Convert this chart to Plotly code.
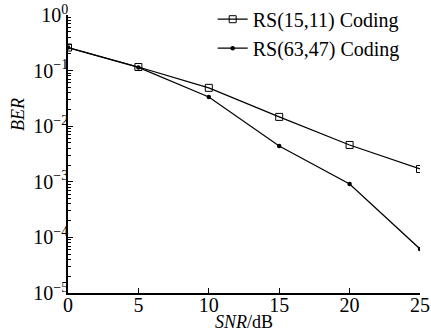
import plotly.graph_objects as go

snr = [0, 5, 10, 15, 20, 25]
ber_rs15 = [0.26, 0.116, 0.049, 0.0147, 0.0046, 0.0017]
ber_rs63 = [0.26, 0.114, 0.0335, 0.0044, 0.00091, 0.000062]
series_names = ["RS(15,11) Coding", "RS(63,47) Coding"]
ytick_vals = [1e-5, 1e-4, 1e-3, 1e-2, 1e-1, 1]
ytick_text = ["10<sup>−5</sup>", "10<sup>−4</sup>", "10<sup>−3</sup>", "10<sup>−2</sup>", "10<sup>−1</sup>", "10<sup>0</sup>"]
xtick_vals = [0, 5, 10, 15, 20, 25]

minor_vals = [m * 10.0**e for e in range(-5, 0) for m in range(2, 10)]

font = "Liberation Serif, Times New Roman, serif"

fig = go.Figure()
fig.add_trace(go.Scatter(
    x=snr, y=ber_rs15, name=series_names[0], mode="lines+markers",
    line=dict(color="black", width=1.2),
    marker=dict(symbol="square-open", size=7, color="black", line=dict(width=1)),
))
fig.add_trace(go.Scatter(
    x=snr, y=ber_rs63, name=series_names[1], mode="lines+markers",
    line=dict(color="black", width=1.2),
    marker=dict(symbol="circle", size=4.5, color="black"),
))

fig.update_layout(
    width=431, height=332,
    margin=dict(l=68, r=11, t=15, b=39, autoexpand=False),
    paper_bgcolor="white", plot_bgcolor="white",
    font=dict(family=font, size=20, color="black"),
    showlegend=True,
    legend=dict(x=0.411, y=1.055, xanchor="left", yanchor="top",
                bgcolor="rgba(0,0,0,0)", font=dict(size=20, family=font),
                tracegroupgap=0),
    xaxis=dict(
        range=[0, 25], tickmode="array", tickvals=xtick_vals,
        ticks="inside", ticklen=5, tickcolor="black", tickwidth=1,
        showline=True, linecolor="black", linewidth=1.5, showgrid=False, zeroline=False,
        automargin=False, tickfont=dict(size=20), ticklabelstandoff=-7,
        ticklabeloverflow="allow",
    ),
    yaxis=dict(
        type="log", range=[-5, 0], tickmode="array", tickvals=ytick_vals, ticktext=ytick_text,
        ticks="inside", ticklen=5, tickcolor="black", tickwidth=1,
        minor=dict(tickmode="array", tickvals=minor_vals, ticks="inside", ticklen=3,
                   tickcolor="black", showgrid=False),
        showline=True, linecolor="black", linewidth=1.5, showgrid=False, zeroline=False,
        automargin=False, tickfont=dict(size=20), ticklabelstandoff=-6,
        ticklabeloverflow="allow",
    ),
    annotations=[
        dict(text="<i>BER</i>", xref="paper", yref="paper", x=-0.142, y=0.64,
             xanchor="center", yanchor="middle", textangle=-90, showarrow=False,
             font=dict(size=18)),
        dict(text="<i>SNR</i>/dB", xref="paper", yref="paper", x=0.5, y=-0.106,
             xanchor="center", yanchor="middle", showarrow=False,
             font=dict(size=18)),
    ],
)

fig.write_html("out.html", config={"displayModeBar": False},
               post_script="document.body.style.margin='0';")
